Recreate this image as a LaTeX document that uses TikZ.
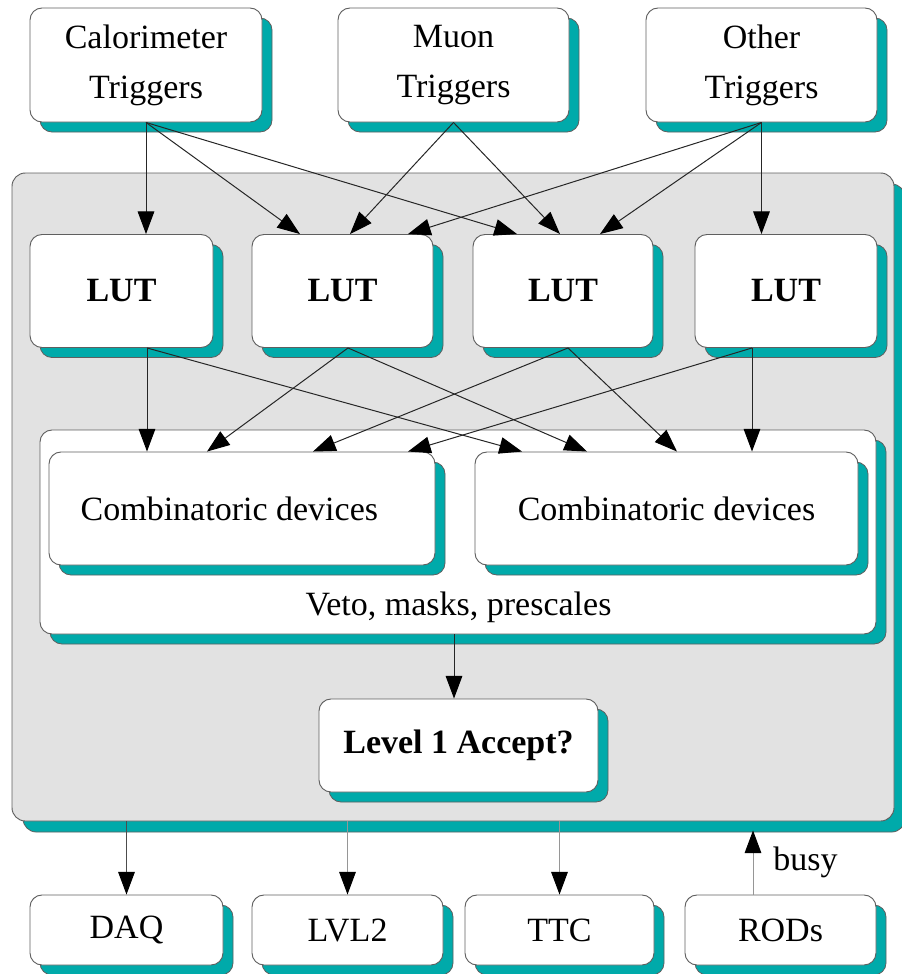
\documentclass[tikz,border=0pt]{standalone}
\usepackage{fontspec}
\setmainfont{Liberation Serif}
\usetikzlibrary{arrows.meta,shadows,calc}

\definecolor{shadowteal}{RGB}{0,170,170}
\definecolor{panelgray}{RGB}{226,226,226}
\definecolor{edgegray}{RGB}{95,95,95}
\definecolor{wiregray}{RGB}{150,150,150}

\newcommand\lblfont{\fontsize{25.5pt}{37.5pt}\selectfont}

\tikzset{
  plate/.style={draw=edgegray, line width=0.7pt, fill=white,
      rounded corners=9pt, inner sep=0pt, align=center, font=\lblfont},
  card/.style={plate, general shadow={shadow xshift=7.5pt, shadow yshift=-7.5pt,
      fill=shadowteal, draw=edgegray, line width=0.6pt}},
  bigcard/.style={plate, fill=panelgray, rounded corners=10pt,
      general shadow={shadow xshift=8.25pt, shadow yshift=-8.25pt,
      fill=shadowteal, draw=edgegray, line width=0.6pt}},
  caption/.style={inner sep=0pt, font=\lblfont},
  feed/.style={draw=black!85, line width=0.75pt,
      -{Triangle[length=17pt,width=12.5pt,color=black]}},
  faint/.style={feed, draw=wiregray},
}

\begin{document}
\begin{tikzpicture}[x=0.75pt,y=-0.75pt]
\useasboundingbox (0,0) rectangle (902,974);

% trigger sources
\node[card, minimum width=232*0.75pt, minimum height=114*0.75pt] (cal)   at (146,65)   {Calorimeter\\Triggers};
\node[card, minimum width=231*0.75pt, minimum height=114*0.75pt] (muon)  at (453.5,65) {Muon\\Triggers};
\node[card, minimum width=231*0.75pt, minimum height=114*0.75pt] (other) at (761.5,65) {Other\\Triggers};

% central trigger processor panel
\node[bigcard, minimum width=882*0.75pt, minimum height=648*0.75pt] (panel) at (453,497) {};

% look-up tables
\node[card, minimum width=183*0.75pt, minimum height=113*0.75pt] (lut1) at (121.5,291) {\bfseries LUT};
\node[card, minimum width=181*0.75pt, minimum height=113*0.75pt] (lut2) at (342.5,291) {\bfseries LUT};
\node[card, minimum width=180*0.75pt, minimum height=113*0.75pt] (lut3) at (563,291)   {\bfseries LUT};
\node[card, minimum width=182*0.75pt, minimum height=113*0.75pt] (lut4) at (786,291)   {\bfseries LUT};

% combinatoric logic block
\node[card, minimum width=836*0.75pt, minimum height=204*0.75pt] (comb) at (458,532) {};
\node[card, minimum width=386*0.75pt, minimum height=113*0.75pt] (combL) at (242,508.5)   {Combinatoric devices\hspace*{19pt}};
\node[card, minimum width=383*0.75pt, minimum height=113*0.75pt] (combR) at (666.5,508.5) {Combinatoric devices};
\node[caption, anchor=base] (veto) at (458.5,615) {Veto, masks, prescales};

% decision
\node[card, minimum width=279*0.75pt, minimum height=93*0.75pt] (accept) at (458.5,745.5) {\bfseries Level 1 Accept?};

% destinations
\node[card, minimum width=193*0.75pt, minimum height=70*0.75pt] (daq)  at (126.5,930) {DAQ};
\node[card, minimum width=191*0.75pt, minimum height=70*0.75pt] (lvl2) at (347.5,930) {LVL2};
\node[card, minimum width=189*0.75pt, minimum height=70*0.75pt] (ttc)  at (559.5,930) {TTC};
\node[card, minimum width=191*0.75pt, minimum height=70*0.75pt] (rods) at (780.5,930) {RODs};

% sources -> LUTs
\draw[feed] (cal.south) -- (cal.south |- lut1.north);
\draw[feed] (cal.south) -- ($(lut2.north)+(-42.5,0)$);
\draw[feed] (cal.south) -- ($(lut3.north)+(-46,0)$);
\draw[feed] (muon.south) -- ($(lut2.north)+(7.5,0)$);
\draw[feed] (muon.south) -- ($(lut3.north)+(-3,0)$);
\draw[feed] (other.south) -- ($(lut2.north)+(65.5,0)$);
\draw[feed] (other.south) -- ($(lut3.north)+(37,0)$);
\draw[feed] (other.south) -- (other.south |- lut4.north);

% LUT outputs
\coordinate (out1) at ($(lut1.south)+(25.5,0)$);
\coordinate (out2) at ($(lut2.south)+(5.5,0)$);
\coordinate (out3) at ($(lut3.south)+(5,0)$);
\coordinate (out4) at ($(lut4.south)+(-34,0)$);

\draw[feed] (out1) -- (out1 |- combL.north);
\draw[feed] (out1) -- ($(combR.north)+(-144.5,0)$);
\draw[feed] (out2) -- ($(combL.north)+(-35,0)$);
\draw[feed] (out2) -- ($(combR.north)+(-79.5,0)$);
\draw[feed] (out3) -- ($(combL.north)+(71,0)$);
\draw[feed] (out3) -- ($(combR.north)+(10.5,0)$);
\draw[feed] (out4) -- ($(combL.north)+(166,0)$);
\draw[feed] (out4) -- (out4 |- combR.north);

% combinatorics -> decision
\coordinate (accin) at ($(comb.south)+(-4,0)$);
\draw[feed] (accin) -- (accin |- accept.north);

% panel -> destinations
\draw[feed, draw=black!70] (daq.north |- panel.south) -- (daq.north);
\draw[faint] (lvl2.north |- panel.south) -- (lvl2.north);
\draw[faint] (ttc.north |- panel.south) -- (ttc.north);

% busy back-pressure from the RODs
\coordinate (busyfoot) at ($(rods.north)+(-27.5,0)$);
\coordinate (panelfoot) at ($(panel.south)+(0,9)$);
\draw[faint] (busyfoot) -- (busyfoot |- panelfoot);
\node[caption, anchor=base west] (busy) at (773,870) {busy};
\end{tikzpicture}
\end{document}
